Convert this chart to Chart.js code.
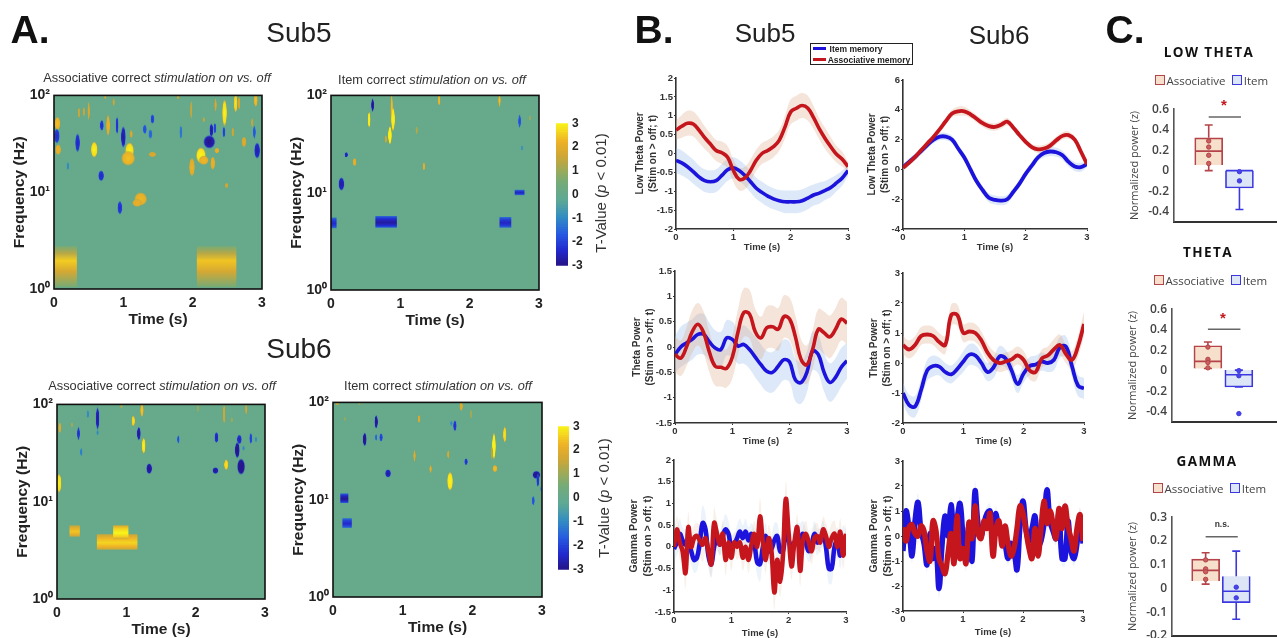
<!DOCTYPE html>
<html><head><meta charset="utf-8">
<script src="https://cdn.jsdelivr.net/npm/chart.js@4/dist/chart.umd.min.js"></script>
<style>
html,body{margin:0;padding:0;background:#fff;overflow:hidden;width:1277px;height:638px}
#fig{position:absolute;left:0;top:0;width:1277px;height:638px;overflow:hidden;filter:blur(0.45px)}
canvas{position:absolute}
.t{position:absolute;transform:translate(-50%,-50%);white-space:nowrap;font-family:"Liberation Sans",Arial,sans-serif;color:#222}
.sw{position:absolute;box-sizing:border-box;width:10px;height:10px;border-width:1.5px;border-style:solid}
.ls{position:absolute;height:3px;width:13px}
</style></head><body><div id="fig"></div>
<script>
// ---------- DATA ----------
const timeTicks=[0,1,2,3];
const freqTicks=[1,10,100];
const freqLabels=['10⁰','10¹','10²'];
const tValueTicks=[-3,-2,-1,0,1,2,3];
// spectrogram patches: [time s, log10 Hz, half time, half log10 Hz, T]
const blobsSub5Assoc=[[.05,1.71,.03,.05,2.2],[.04,1.58,.03,.055,-2.2],[.06,1.44,.03,.04,2],[.34,1.51,.025,.07,-2.3],[.58,1.44,.035,.06,2.8],[.36,1.82,.01,.04,1.5],[.43,1.83,.01,.035,1.5],[.5,1.84,.012,.07,1.7],[.78,1.69,.02,.08,2],[.69,1.69,.02,.04,-2.2],[.91,1.69,.015,.065,-2.2],[1,1.57,.025,.08,-2.6],[1.115,1.6,.015,.03,1.7],[1.09,1.43,.045,.06,2.8],[1.07,1.35,.07,.055,2.2],[.68,1.17,.03,.04,-2.3],[.2,1.27,.012,.03,-1],[.95,.84,.025,.05,-2.2],[1.25,.93,.065,.05,2.1],[1.2,.89,.05,.03,2],[1.31,1.65,.02,.035,-1.8],[1.39,1.6,.02,.035,-1.5],[1.42,1.755,.02,.035,-2],[1.42,1.39,.04,.02,1.7],[1.83,1.62,.015,.05,-1.3],[1.98,1.85,.01,.07,1.4],[1.99,1.26,.03,.07,2],[2.12,1.38,.05,.06,2.9],[2.16,1.33,.05,.035,2.1],[2.24,1.52,.06,.05,-2.8],[2.27,1.64,.02,.05,-2.6],[2.32,1.66,.015,.04,-2],[2.29,1.3,.025,.05,2],[2.35,1.43,.025,.02,2],[2.46,1.82,.025,.1,2.8],[2.33,1.9,.01,.05,1.7],[2.45,1.62,.015,.04,-2],[2.49,1.07,.02,.02,1.5],[2.58,1.62,.015,.035,1.5],[2.62,1.92,.02,.07,2.6],[2.67,1.92,.01,.05,1.7],[2.74,1.52,.025,.04,1.8],[2.86,1.72,.01,.035,1.4],[2.89,1.62,.015,.05,-1.7],[2.93,1.43,.03,.06,-2.5],[2.91,1.95,.02,.05,2.2],[2.16,1.75,.01,.02,1.4],[.74,1.98,.006,.015,1.5],[.86,1.93,.01,.03,1.4],[1.79,1.98,.015,.015,1.4]];
const blocksSub5Assoc=[[0,.33,.02,.445,2.5],[2.06,2.63,.02,.445,2.4]];
const blobsSub5Item=[[.6,1.9,.015,.05,-2.8],[.55,1.75,.015,.06,2.9],[.875,1.86,.008,.12,2.2],[.895,1.755,.02,.09,2.9],[.85,1.59,.02,.07,3],[.79,1.55,.01,.03,1.6],[.22,1.39,.018,.02,-2.5],[.34,1.315,.02,.03,2],[.15,1.09,.03,.05,-2.6],[1.34,1.27,.012,.03,2],[1.235,1.64,.005,.03,1.2],[1.56,1.95,.012,.04,2.2],[2.43,1.95,.012,.05,2.2],[2.72,1.735,.015,.05,-1.8],[2.755,1.46,.005,.02,-.8],[2.87,1.77,.005,.02,.9]];
const blocksSub5Item=[[2.65,2.79,.975,1.03,-2.5],[0,.08,.635,.745,-2.4],[.64,.95,.64,.76,-2.8],[2.43,2.6,.64,.75,-2.5]];
const blobsSub6Assoc=[[.585,1.855,.018,.085,-2.6],[.585,1.71,.005,.02,-1],[.445,1.9,.005,.03,-1],[.31,1.7,.015,.05,-2.2],[.35,1.51,.01,.03,-1.2],[.04,1.76,.015,.04,1.8],[.215,1.79,.005,.02,1],[.03,1.19,.025,.07,2.8],[1.1,1.83,.018,.04,2.6],[1.225,1.94,.018,.05,2.3],[1.18,1.7,.02,.05,-2.7],[1.25,1.575,.02,.06,2.8],[1.33,1.34,.03,.04,-2.8],[1.75,1.64,.012,.03,-1.8],[2.3,1.66,.02,.04,-2.4],[2.285,1.32,.03,.025,-2.7],[2.41,1.9,.008,.075,1.6],[2.44,1.38,.022,.04,2.6],[2.6,1.53,.025,.06,-2.9],[2.63,1.64,.025,.035,-2.4],[2.655,1.36,.04,.06,-3],[2.73,1.95,.012,.04,1.5],[2.795,1.65,.015,.04,-2],[2.87,1.64,.008,.02,-1],[2.03,1.96,.005,.03,.9],[.93,1.98,.008,.018,1.2],[2.52,1.84,.005,.02,1],[2.69,1.55,.005,.02,-1]];
const blocksSub6Assoc=[[.18,.33,.64,.757,2.4],[.575,1.16,.507,.666,2.6],[.81,1.03,.615,.757,3]];
const blobsSub6Item=[[.62,1.8,.018,.05,-2.8],[.455,1.62,.02,.05,-2.9],[.62,1.64,.01,.025,-1.5],[.69,1.64,.018,.03,-2],[.79,1.27,.03,.03,-2.6],[1.235,1.83,.012,.03,1.8],[1.17,1.45,.012,.045,1.8],[1.4,1.315,.012,.03,1.9],[1.655,1.465,.01,.03,1.7],[1.68,1.19,.03,.07,2.9],[1.75,1.76,.018,.04,-2.2],[1.7,1.785,.005,.02,-1],[1.91,1.39,.018,.025,-2.2],[1.84,1.96,.018,.035,1.8],[1.98,1.88,.012,.035,1],[2.31,1.55,.02,.1,3],[2.28,1.48,.005,.05,1.2],[2.465,1.67,.018,.06,2.6],[2.325,1.32,.025,.027,2.2],[2.92,1.255,.04,.03,-2.9],[2.94,1.2,.015,.05,-2.2],[2.875,.99,.015,.035,-1.8],[2.99,1.11,.005,.02,-1],[.06,1.985,.02,.012,1.4],[.38,1.985,.01,.012,1],[.17,1.83,.005,.018,.8]];
const blocksSub6Item=[[.105,.22,.966,1.064,-2.9],[.135,.27,.71,.81,-2.4]];

const lowThetaSub5Item=[-.18,-.25,-.35,-.48,-.62,-.72,-.75,-.72,-.58,-.43,-.38,-.45,-.58,-.75,-.92,-1.03,-1.13,-1.2,-1.25,-1.28,-1.28,-1.28,-1.25,-1.18,-1.1,-1.05,-.98,-.9,-.78,-.65,-.45];
const lowThetaSub5Assoc=[.62,.72,.8,.78,.62,.42,.25,.08,.02,-.1,-.45,-.68,-.65,-.45,-.18,0,.08,.18,.35,.7,1.1,1.2,1.27,1.2,.95,.65,.4,.18,-.02,-.15,-.35];
const lowThetaSub5ItemSem=[.33,.33,.32,.32,.3,.3,.3,.3,.3,.3,.28,.28,.28,.28,.28,.28,.28,.28,.28,.3,.3,.3,.3,.3,.28,.28,.25,.25,.22,.2,.15];
const lowThetaSub5AssocSem=[.25,.3,.33,.33,.33,.3,.28,.28,.3,.3,.3,.3,.3,.3,.28,.28,.28,.28,.28,.3,.33,.33,.33,.33,.3,.28,.28,.25,.22,.2,.12];
const lowThetaSub6Item=[.15,.5,.85,1.25,1.65,2,2.2,2.2,2,1.4,.8,0,-.8,-1.4,-1.9,-2.05,-2.1,-2,-1.5,-.95,-.3,.25,.8,1.1,1.2,1.15,.95,.5,.2,.15,.35];
const lowThetaSub6Assoc=[.1,.45,.85,1.3,1.75,2.2,2.7,3.25,3.75,3.9,3.9,3.7,3.4,3.1,2.9,2.85,3,3.2,2.8,2.3,1.85,1.5,1.35,1.4,1.6,1.95,2.25,2.3,2,1.2,.35];
const lowThetaSub6ItemSem=[.2,.25,.25,.25,.25,.25,.25,.25,.25,.25,.25,.25,.25,.25,.3,.3,.3,.3,.25,.25,.25,.25,.25,.3,.3,.3,.3,.3,.3,.3,.2];
const lowThetaSub6AssocSem=[.15,.2,.2,.2,.2,.2,.2,.2,.25,.3,.3,.25,.25,.25,.25,.25,.25,.25,.2,.2,.2,.2,.25,.25,.25,.25,.25,.25,.2,.2,.15];
const thetaSub5Item=[-.15,0,.08,.15,.25,.25,.1,-.02,-.05,.18,.15,.02,.05,-.05,-.2,-.35,-.48,-.5,-.38,-.25,-.3,-.65,-.7,-.5,-.08,-.15,-.5,-.7,-.6,-.4,-.27];
const thetaSub5Assoc=[-.15,-.22,0,.3,.45,.28,-.1,-.38,-.4,-.42,-.2,.3,.68,.65,.3,.18,.38,.4,.35,.6,.55,.2,-.25,-.35,-.05,.35,.28,.2,.35,.55,.47];
const thetaSub5ItemSem=[.35,.4,.4,.4,.4,.4,.38,.35,.35,.35,.35,.35,.38,.38,.4,.4,.4,.4,.4,.4,.4,.42,.42,.4,.38,.38,.38,.38,.38,.38,.35];
const thetaSub5AssocSem=[.35,.35,.38,.42,.42,.42,.4,.38,.38,.38,.42,.45,.48,.48,.45,.42,.42,.42,.42,.42,.42,.42,.4,.38,.38,.4,.42,.42,.42,.42,.42];
const thetaSub6Item=[-1,-1.4,-1.45,-.9,-.25,-.1,-.12,-.3,-.38,-.2,.05,.28,.25,0,-.3,-.15,.22,.15,-.25,-.7,-.35,-.1,-.05,.05,0,.1,.52,.55,-.1,-.75,-.85];
const thetaSub6Assoc=[.6,.45,.6,.9,.95,.9,.7,.6,1.6,1.6,1,1.05,1,.75,.35,.1,0,.05,.12,.25,.1,-.25,-.3,.15,.25,.45,.6,.3,.1,.55,1.3];
const thetaSub6ItemSem=[.35,.35,.35,.35,.35,.35,.3,.3,.3,.3,.35,.35,.35,.3,.3,.35,.35,.3,.3,.3,.3,.3,.3,.3,.3,.35,.35,.35,.35,.35,.35];
const thetaSub6AssocSem=[.3,.3,.3,.3,.3,.3,.3,.3,.35,.35,.3,.3,.3,.3,.3,.3,.3,.3,.3,.3,.3,.3,.3,.3,.3,.35,.35,.3,.3,.35,.4];
const gammaSub5Item=[-.05,.1,.3,.15,.05,.1,-.1,-.3,-.25,.1,.55,.4,-.2,-.4,0,.2,.05,.25,.4,.3,0,.05,.2,.35,.2,.35,.15,.3,.1,-.35,-.4,0,.25,-.1,-.05,.15,.25,-.1,-.1,.35,.15,0,.1,.25,.2,.3,.1,-.1,.05,.3,.1,.2,.3,0,-.5,-.5,0,.15,-.2,.2,.15];
const gammaSub5Assoc=[0,.4,.1,-.1,-.6,.45,0,.2,.25,.15,.05,.2,-.1,-.4,.55,.3,.05,.3,-.3,.1,-.25,.1,0,.1,-.25,0,-.3,.05,.3,0,.7,.1,-.3,.2,-.1,-1.05,-.3,-.8,-.2,1.1,.3,-.45,.1,.45,-.55,.15,.3,.1,-.1,.2,.25,.1,.4,.25,0,.2,.3,0,.35,-.2,.3];
const gammaSub5Sem=[.25,.3,.35,.3,.35,.35,.3,.3,.3,.35,.4,.35,.3,.3,.35,.3,.25,.3,.35,.3,.3,.25,.3,.3,.3,.3,.3,.25,.3,.3,.4,.3,.3,.3,.3,.4,.3,.35,.3,.4,.3,.3,.25,.3,.35,.3,.3,.25,.3,.3,.3,.25,.3,.3,.35,.35,.3,.3,.3,.3,.25];
const gammaSub6Item=[-.6,1,.3,-.8,.6,1.35,.2,-.3,-1.15,.1,-.9,-.5,-2.1,-.4,.8,0,1.25,.2,.7,1.3,0,-1,.4,-1,1.8,.5,0,.5,.9,1,.2,.9,.1,.1,-.3,-.9,-.3,-.6,-1.35,.4,1.4,.3,-.2,.3,.8,-.4,-.2,.5,1.85,.6,.2,-.1,.9,-.9,-.9,.6,-.6,-.9,-.3,.8,-.3];
const gammaSub6Assoc=[.35,-.2,.35,.45,.1,0,.4,.2,-.6,-1,.6,.2,-.9,-1.2,-1.5,-.7,.1,-1.1,.8,-.9,-.5,-1.1,.55,-.1,1.2,.1,-.1,.6,.3,.9,-.8,.3,.6,-.4,.4,-.3,-.8,-.5,.3,1.2,.9,.2,-.5,-.9,.3,-.8,.3,1.4,.5,1,.5,-.1,1.1,.3,1.2,.4,-.1,-.6,.3,.85,-.2];
const gammaSub6Sem=[.25,.3,.3,.3,.3,.35,.3,.3,.3,.3,.3,.3,.4,.3,.3,.25,.3,.3,.3,.3,.25,.3,.3,.3,.4,.3,.25,.3,.3,.3,.25,.3,.25,.25,.25,.3,.25,.3,.3,.3,.3,.25,.25,.25,.3,.25,.25,.3,.4,.3,.25,.25,.3,.3,.3,.25,.25,.3,.25,.3,.25];

const lowThetaTicksSub5=[-2,-1.5,-1,-.5,0,.5,1,1.5,2];
const lowThetaTicksSub6=[-4,-2,0,2,4,6];
const thetaTicksSub5=[-1.5,-1,-.5,0,.5,1,1.5];
const thetaTicksSub6=[-2,-1,0,1,2,3];
const gammaTicksSub5=[-1.5,-1,-.5,0,.5,1,1.5,2];
const gammaTicksSub6=[-3,-2,-1,0,1,2,3];

// boxes: [low whisker, q1, median, q3, high whisker]
const lowThetaBoxAssoc=[0,.056,.19,.32,.445];
const lowThetaBoxItem=[-.38,-.17,0,0,0];
const lowThetaPtsAssoc=[.29,.23,.15,.07];
const lowThetaPtsItem=[-.01,-.1];
const thetaBoxAssoc=[.02,.02,.09,.243,.28];
const thetaBoxItem=[-.16,-.16,-.04,.005,.005];
const thetaPtsAssoc=[.23,.11,.08,.027];
const thetaPtsItem=[0,-.05,-.42];
const gammaBoxAssoc=[.018,.031,.076,.123,.15];
const gammaBoxItem=[-.13,-.06,-.012,.051,.157];
const gammaPtsAssoc=[.12,.082,.07,.038];
const gammaPtsItem=[.005,-.04];
const powerTicks=[-.4,-.2,0,.2,.4,.6];
const gammaPowerTicks=[-.2,-.1,0,.1,.2,.3];
const boxNames=['Associative','Item'];

// ---------- HELPERS ----------
const fig=document.getElementById('fig');
const SANS='"Liberation Sans",Arial,sans-serif';
const OPEN='"Open Sans",sans-serif';
const BG='#66a98b';
const CM=[[-3,[38,20,135]],[-2.4,[34,40,205]],[-1.7,[38,90,225]],[-1,[50,140,195]],[-.3,[92,168,150]],[0,[102,169,139]],[.5,[118,171,118]],[1,[158,170,88]],[1.6,[208,166,52]],[2.2,[238,178,38]],[2.7,[246,222,30]],[3,[248,246,24]]];
function cmap(v,a){v=Math.max(-3,Math.min(3,v));let i=0;while(i<CM.length-2&&v>CM[i+1][0])i++;const[p,c]=CM[i],[q,d]=CM[i+1];const f=(v-p)/(q-p);const r=c.map((x,k)=>Math.round(x+(d[k]-x)*f));return `rgba(${r[0]},${r[1]},${r[2]},${a===undefined?1:a})`;}
function txt(s,x,y,css){const d=document.createElement('div');d.className='t';d.innerHTML=s;d.style.left=x+'px';d.style.top=y+'px';d.style.cssText+=';'+css;fig.appendChild(d);return d;}
function box(l,t,r,b,L,R,T,B,padR){const c=document.createElement('canvas');const w=r-l+L+R,h=b-t+T+B;c.width=w;c.height=h;c.style.left=(l-L)+'px';c.style.top=(t-T)+'px';c.style.width=w+'px';c.style.height=h+'px';fig.appendChild(c);return{c,pad:{top:T,right:padR===undefined?R:padR,left:0,bottom:0},L,B};}
function setTicks(vals){return s=>{s.ticks=vals.map(v=>({value:v}));};}
function fmt(v){return String(v).replace(/^(-?)0\./,'$10.');}

const heatPlugin={id:'heat',beforeDatasetsDraw(ch,a,o){
  const {ctx,chartArea:A,scales:{x,y}}=ch;
  ctx.save();ctx.beginPath();ctx.rect(A.left,A.top,A.width,A.height);ctx.clip();
  ctx.fillStyle=BG;ctx.fillRect(A.left,A.top,A.width,A.height);
  ctx.filter='blur(0.7px)';
  (o.blocks||[]).forEach(([t0,t1,l0,l1,v])=>{
    const X0=x.getPixelForValue(t0),X1=x.getPixelForValue(t1),Y0=y.getPixelForValue(Math.pow(10,l1)),Y1=y.getPixelForValue(Math.pow(10,l0));
    const g=ctx.createLinearGradient(0,Y0,0,Y1);
    if(l1-l0>.3){g.addColorStop(0,cmap(.4));g.addColorStop(.18,cmap(1.3));g.addColorStop(.36,cmap(v));g.addColorStop(.62,cmap(1.7));g.addColorStop(1,cmap(.5));}
    else{g.addColorStop(0,cmap(v*.55));g.addColorStop(.25,cmap(v*.85));g.addColorStop(.55,cmap(v));g.addColorStop(.8,cmap(v*.85));g.addColorStop(1,cmap(v*.55));}
    ctx.fillStyle=g;ctx.fillRect(X0,Y0,X1-X0,Y1-Y0);
  });
  (o.blobs||[]).forEach(([t,l,ht,hl,v])=>{
    const X=x.getPixelForValue(t),Y=y.getPixelForValue(Math.pow(10,l));
    const rx=Math.max(1.3,Math.abs(x.getPixelForValue(t+ht)-X)*1.45),ry=Math.max(1.6,Math.abs(y.getPixelForValue(Math.pow(10,l+hl))-Y)*1.4);
    ctx.save();ctx.translate(X,Y);ctx.scale(rx,ry);
    const g=ctx.createRadialGradient(0,0,0,0,0,1);
    g.addColorStop(0,cmap(v*1.08));g.addColorStop(.75,cmap(v*.95));g.addColorStop(1,cmap(v*.6,.3));
    ctx.fillStyle=g;ctx.beginPath();ctx.arc(0,0,1,0,7);ctx.fill();ctx.restore();
  });
  ctx.restore();
},afterDatasetsDraw(ch){const {ctx,chartArea:A}=ch;ctx.save();ctx.strokeStyle='#111';ctx.lineWidth=1.6;ctx.strokeRect(A.left,A.top,A.width,A.height);ctx.restore();}};

function heat(l,t,r,b,L,blobs,blocks){
  const p=box(l,t,r,b,L,12,10,40);
  new Chart(p.c,{type:'scatter',data:{datasets:[{data:blobs.map(q=>({x:q[0],y:Math.pow(10,q[1])})),pointRadius:0}]},plugins:[heatPlugin],
   options:{responsive:false,animation:false,layout:{padding:p.pad},events:[],plugins:{legend:{display:false},tooltip:{enabled:false},heat:{blobs,blocks}},
   scales:{x:{type:'linear',min:0,max:3,afterBuildTicks:setTicks(timeTicks),afterFit:s=>{s.height=p.B;},grid:{display:false,drawTicks:false},border:{display:false},
     ticks:{autoSkip:false,maxRotation:0,padding:6,color:'#222',font:{family:SANS,size:14,weight:'bold'},callback:v=>String(v)},
     title:{display:true,text:'Time (s)',color:'#222',padding:0,font:{family:SANS,size:15.5,weight:'bold'}}},
    y:{type:'logarithmic',min:1,max:100,afterBuildTicks:setTicks(freqTicks),afterFit:s=>{s.width=p.L;},grid:{display:false,drawTicks:false},border:{display:false},
     ticks:{autoSkip:false,padding:4,color:'#222',font:{family:SANS,size:14,weight:'bold'},callback:v=>freqLabels[freqTicks.indexOf(v)]},
     title:{display:true,text:'Frequency (Hz)',color:'#222',padding:0,font:{family:SANS,size:15.5,weight:'bold'}}}}}});
}
function colorbar(l,t,r,b){
  const p=box(l,t,r,b,0,22,8,6,0);
  const levels=[];for(let i=0;i<60;i++)levels.push(-3+i*.1);
  new Chart(p.c,{type:'bar',data:{labels:['T'],datasets:levels.map(v=>({data:[[v,v+.12]],backgroundColor:cmap(v+.05),borderWidth:0,barPercentage:1,categoryPercentage:1,grouped:false}))},
   options:{responsive:false,animation:false,layout:{padding:p.pad},events:[],plugins:{legend:{display:false},tooltip:{enabled:false}},
   scales:{x:{display:false},y:{position:'right',min:-3,max:3,afterBuildTicks:setTicks(tValueTicks),grid:{display:false,drawTicks:false},border:{display:false},afterFit:s=>{s.width=22;},
    ticks:{autoSkip:false,padding:4,color:'#222',font:{family:SANS,size:12,weight:'bold'},callback:v=>String(v)}}}}});
}
function xy(arr){const step=3/(arr.length-1);return arr.map((v,i)=>({x:i*step,y:v}));}
function off(arr,sem,s){const step=3/(arr.length-1);return arr.map((v,i)=>({x:i*step,y:v+s*sem[i]}));}
function linePanel(l,t,r,b,L,B,lo,hi,ticks,title,item,assoc,itemSem,assocSem,lw,alpha,fs){
  const p=box(l,t,r,b,L,10,8,B);
  const blueBand=`rgba(150,188,232,${alpha})`,redBand=`rgba(222,172,140,${alpha})`;
  const band=(arr,sem,c,ord)=>[{data:off(arr,sem,1),borderWidth:0,pointRadius:0,tension:.4,fill:'+1',backgroundColor:c,order:ord},{data:off(arr,sem,-1),borderWidth:0,pointRadius:0,tension:.4,fill:false,order:ord+1}];
  new Chart(p.c,{type:'line',data:{datasets:[
     {label:'Associative memory',data:xy(assoc),borderColor:'#c4161c',borderWidth:lw,pointRadius:0,tension:.4,order:1,fill:false},
     {label:'Item memory',data:xy(item),borderColor:'#1c14dc',borderWidth:lw,pointRadius:0,tension:.4,order:2,fill:false},
     ...band(assoc,assocSem,redBand,3),...band(item,itemSem,blueBand,5)]},
   options:{responsive:false,animation:false,layout:{padding:p.pad},events:[],plugins:{legend:{display:false},tooltip:{enabled:false}},
   scales:{x:{type:'linear',min:0,max:3,afterBuildTicks:setTicks(timeTicks),afterFit:s=>{s.height=p.B;},grid:{drawOnChartArea:false,tickLength:2,color:'#333'},border:{color:'#333',width:1.6},
     ticks:{autoSkip:false,maxRotation:0,padding:1,color:'#333',font:{family:SANS,size:9.5,weight:'bold'},callback:v=>String(v)},
     title:{display:true,text:'Time (s)',color:'#333',padding:0,font:{family:SANS,size:9.5,weight:'bold'}}},
    y:{type:'linear',min:lo,max:hi,afterBuildTicks:setTicks(ticks),afterFit:s=>{s.width=p.L;},grid:{drawOnChartArea:false,tickLength:2,color:'#333'},border:{color:'#333',width:1.6},
     ticks:{autoSkip:false,padding:1,color:'#333',font:{family:SANS,size:9.5,weight:'bold'},callback:v=>String(v)},
     title:{display:true,text:title,color:'#333',padding:0,font:{family:SANS,size:fs,weight:'bold',lineHeight:1.25}}}}}});
}
function boxPanel(l,t,r,b,L,B,lo,hi,ticks,xmin,xmax,A,I,ptsA,ptsI,sig){
  const p=box(l,t,r,b,L,4,8,B);
  const RED='#b4444a',BLUE='#3c38e0';
  const capW=.13;
  const segs=(q,x)=>[{x:x,y:q[0]},{x:x,y:q[1]},{x:NaN,y:NaN},{x:x,y:q[3]},{x:x,y:q[4]},{x:NaN,y:NaN},{x:x-capW,y:q[0]},{x:x+capW,y:q[0]},{x:NaN,y:NaN},{x:x-capW,y:q[4]},{x:x+capW,y:q[4]},{x:NaN,y:NaN},{x:x-.44,y:q[2]},{x:x+.44,y:q[2]}];
  const line=(data,c,w,ord)=>({type:'scatter',showLine:true,spanGaps:false,data,borderColor:c,borderWidth:w,pointRadius:0,order:ord});
  const pts=(vals,x,c,f)=>({type:'scatter',data:vals.map(v=>({x,y:v})),pointRadius:2.2,pointBackgroundColor:f,pointBorderColor:c,pointBorderWidth:1,order:1});
  new Chart(p.c,{type:'bar',data:{datasets:[
    {data:[{x:1,y:[A[1],A[3]]}],backgroundColor:'#f6dfcb',borderColor:RED,borderWidth:1.7,barThickness:28,order:4,grouped:false},
    {data:[{x:2,y:[I[1],I[3]]}],backgroundColor:'#dde6f6',borderColor:BLUE,borderWidth:1.7,barThickness:28,order:4,grouped:false},
    line(segs(A,1),RED,1.6,3),line(segs(I,2),BLUE,1.6,3),
    line(sig,'#666',1.5,2),
    pts(ptsA,1,RED,'#c8605c'),pts(ptsI,2,BLUE,'#4a44e8')]},
   options:{responsive:false,animation:false,layout:{padding:p.pad},events:[],plugins:{legend:{display:false},tooltip:{enabled:false}},
   scales:{x:{type:'linear',offset:false,min:xmin,max:xmax,grid:{display:false,drawTicks:false},border:{color:'#333',width:2},ticks:{display:false},afterFit:s=>{s.height=p.B;}},
    y:{type:'linear',min:lo,max:hi,afterBuildTicks:setTicks(ticks),afterFit:s=>{s.width=p.L;},grid:{display:false,drawTicks:false},border:{color:'#555',width:1.6},
     ticks:{autoSkip:false,padding:5,color:'#444',font:{family:OPEN,size:12,weight:'600'},callback:fmt},
     title:{display:true,text:'Normalized power (z)',color:'#444',padding:0,font:{family:OPEN,size:11}}}}}});
}

// ---------- PANEL A ----------
const sub='font-size:12.8px;color:#333';
heat(54,93,262,289,44,blobsSub5Assoc,blocksSub5Assoc);
heat(331,93,539,290,44,blobsSub5Item,blocksSub5Item);
heat(57,402,265,599,44,blobsSub6Assoc,blocksSub6Assoc);
heat(333,400,542,597,44,blobsSub6Item,blocksSub6Item);
colorbar(556,120,568,271);colorbar(558,423,569,575);
txt('A.',30,30,'font-size:39px;font-weight:bold;color:#111');
txt('B.',654,30,'font-size:39px;font-weight:bold;color:#111');
txt('C.',1125,30,'font-size:39px;font-weight:bold;color:#111');
txt('Sub5',299,33,'font-size:28px;color:#222');
txt('Sub6',299,349,'font-size:28px;color:#222');
txt('Sub5',765,33,'font-size:26px;color:#222');
txt('Sub6',999,35,'font-size:26px;color:#222');
txt('Associative correct <i>stimulation on vs. off</i>',157,77,sub);
txt('Item correct <i>stimulation on vs. off</i>',432,79,sub);
txt('Associative correct <i>stimulation on vs. off</i>',162,385,sub);
txt('Item correct <i>stimulation on vs. off</i>',438,385,sub);
txt('T-Value (<i>p</i> &lt; 0.01)',600,193,'font-size:15px;color:#333;transform:translate(-50%,-50%) rotate(-90deg)');
txt('T-Value (<i>p</i> &lt; 0.01)',603,498,'font-size:15px;color:#333;transform:translate(-50%,-50%) rotate(-90deg)');

// ---------- PANEL B ----------
linePanel(676,78,848,229,42,24,-2,2,lowThetaTicksSub5,['Low Theta Power','(Stim on > off; t)'],lowThetaSub5Item,lowThetaSub5Assoc,lowThetaSub5ItemSem,lowThetaSub5AssocSem,3.6,.32,10);
linePanel(903,80,1087,229,37,24,-4,6,lowThetaTicksSub6,['Low Theta Power','(Stim on > off; t)'],lowThetaSub6Item,lowThetaSub6Assoc,lowThetaSub6ItemSem,lowThetaSub6AssocSem,3.8,.32,10);
linePanel(675,271,847,423,44,24,-1.5,1.5,thetaTicksSub5,['Theta Power','(Stim on > off; t)'],thetaSub5Item,thetaSub5Assoc,thetaSub5ItemSem,thetaSub5AssocSem,3.6,.32,10);
linePanel(903,273,1084,423,35,24,-2,3,thetaTicksSub6,['Theta Power','(Stim on > off; t)'],thetaSub6Item,thetaSub6Assoc,thetaSub6ItemSem,thetaSub6AssocSem,3.8,.32,10);
linePanel(674,460,846,612,46,27,-1.5,2,gammaTicksSub5,['Gamma Power','(Stim on > off; t)'],gammaSub5Item,gammaSub5Assoc,gammaSub5Sem,gammaSub5Sem,4.6,.18,10.5);
linePanel(903,461,1083,611,35,27,-3,3,gammaTicksSub6,['Gamma Power','(Stim on > off; t)'],gammaSub6Item,gammaSub6Assoc,gammaSub6Sem,gammaSub6Sem,5.4,.15,10.5);
// legend of B
(function(){const d=document.createElement('div');d.style.cssText='position:absolute;left:810px;top:43px;width:103px;height:22px;box-sizing:border-box;border:1.5px solid #222;background:#fff';fig.appendChild(d);
 const a=document.createElement('div');a.className='ls';a.style.cssText+='left:813px;top:47px;background:#1c14dc';fig.appendChild(a);
 const b=document.createElement('div');b.className='ls';b.style.cssText+='left:813px;top:58px;background:#c4161c';fig.appendChild(b);
 txt('Item memory',856,49,'font-size:8.5px;font-weight:bold;color:#222');
 txt('Associative memory',869,59.5,'font-size:8.5px;font-weight:bold;color:#222');})();

// ---------- PANEL C ----------
boxPanel(1174,105,1277,228,46,6,-.5,.6,powerTicks,-.13,3.19,lowThetaBoxAssoc,lowThetaBoxItem,lowThetaPtsAssoc,lowThetaPtsItem,[{x:1,y:.525},{x:2.05,y:.525}]);
boxPanel(1172,305,1277,428,46,6,-.5,.6,powerTicks,-.16,3.2,thetaBoxAssoc,thetaBoxItem,thetaPtsAssoc,thetaPtsItem,[{x:1,y:.405},{x:2.05,y:.405}]);
boxPanel(1172,513,1277,636,46,12,-.2,.3,gammaPowerTicks,-.1,3.3,gammaBoxAssoc,gammaBoxItem,gammaPtsAssoc,gammaPtsItem,[{x:1,y:.218},{x:2.05,y:.218}]);
const ct='font-family:'+OPEN.replace(/"/g,"'")+';font-size:13.5px;font-weight:bold;letter-spacing:1.4px;color:#111';
txt('LOW THETA',1209,52,ct);txt('THETA',1208,252,ct);txt('GAMMA',1207,461,ct);
txt('*',1224,104,'color:#c4161c;font-size:15px;font-weight:bold');
txt('*',1223,317,'color:#c4161c;font-size:15px;font-weight:bold');
txt('n.s.',1222,524,'font-size:8.5px;font-weight:bold;color:#333');
function clegend(y,dx){
 const mk=(x,c,f)=>{const s=document.createElement('div');s.className='sw';s.style.cssText+=`left:${x+dx}px;top:${y-5}px;border-color:${c};background:${f}`;fig.appendChild(s);};
 mk(1155,'#b4444a','#f6dfcb');mk(1232,'#3c38e0','#dde6f6');
 const lg="font-family:'Open Sans',sans-serif;font-size:11.5px;color:#444";
 txt(boxNames[0],1196+dx,y,lg);txt(boxNames[1],1256+dx,y,lg);
}
clegend(80,0);clegend(280,-1);clegend(488,-2);
</script></body></html>
